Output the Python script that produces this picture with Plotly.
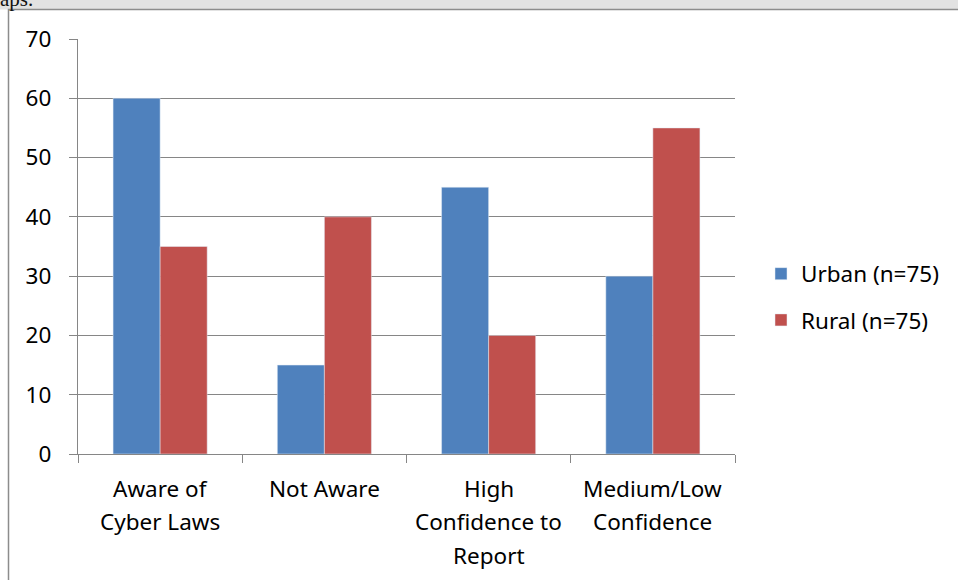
import plotly.graph_objects as go

categories = ["Aware of<br>Cyber Laws", "Not Aware", "High<br>Confidence to<br>Report", "Medium/Low<br>Confidence"]
urban = [60, 15, 45, 30]
rural = [35, 40, 20, 55]
series_names = ["Urban (n=75)", "Rural (n=75)"]
y_ticks = [0, 10, 20, 30, 40, 50, 60, 70]

W, H = 958, 580
L, R, T, B = 78, 735, 39, 454
PW, PH = R - L, B - T

def px(x):
    return (x - L) / PW

def py(y):
    return (B - y) / PH

FONT = "Noto Sans"
FS = 22.5
GRAY = "#868686"

fig = go.Figure()
fig.add_trace(go.Bar(x=categories, y=urban, name=series_names[0], marker_color="#4F81BD",
                     legendgroup="u"))
fig.add_trace(go.Bar(x=categories, y=rural, name=series_names[1], marker_color="#C0504D",
                     legendgroup="r"))

shapes = [
    # top strip of page
    dict(type="rect", xref="paper", yref="paper", x0=px(-5), x1=px(W + 5), y0=py(9.5), y1=py(-5),
         fillcolor="#e2e2e2", line=dict(width=0), layer="below"),
    # chart frame
    dict(type="rect", xref="paper", yref="paper", x0=px(8.5), x1=px(W + 10), y0=py(H + 10), y1=py(9.5),
         fillcolor="white", line=dict(color="#8c8c8c", width=1.5), layer="below"),
]

annotations = [
    dict(text="aps.", xref="paper", yref="paper", x=px(-2), y=py(13), xanchor="left", yanchor="bottom",
         showarrow=False, font=dict(family="Liberation Serif", size=21, color="#111")),
]
for c in categories:
    for i, line in enumerate(c.split("<br>")):
        annotations.append(dict(text=line, x=c, y=0, xref="x", yref="y", xanchor="center", yanchor="middle",
                                yshift=-(34 + 33.5 * i), showarrow=False,
                                font=dict(family=FONT, size=FS, color="#000")))

fig.update_layout(
    width=W, height=H,
    margin=dict(l=L, r=W - R, t=T, b=H - B, pad=0),
    paper_bgcolor="white", plot_bgcolor="white",
    barmode="group", bargap=0.427, bargroupgap=0,
    font=dict(family=FONT, size=FS, color="#000"),
    shapes=shapes, annotations=annotations,
    legend=dict(x=px(761), y=py(297), xanchor="left", yanchor="middle",
                font=dict(family=FONT, size=FS, color="#000"),
                tracegroupgap=14, traceorder="grouped", bgcolor="rgba(0,0,0,0)"),
    xaxis=dict(showticklabels=False, ticks="outside", ticklen=8, tickcolor=GRAY, tickson="boundaries",
               showline=True, linecolor=GRAY, linewidth=1.3, showgrid=False, fixedrange=True),
    yaxis=dict(range=[0, 70], tickvals=y_ticks, ticks="outside", ticklen=8, tickcolor=GRAY,
               showline=True, linecolor=GRAY, linewidth=1.3, showgrid=True, gridcolor=GRAY, gridwidth=1.3,
               zeroline=False, ticklabelstandoff=13, tickfont=dict(family=FONT, size=FS, color="#000")),
)

fig.write_html("out.html")
